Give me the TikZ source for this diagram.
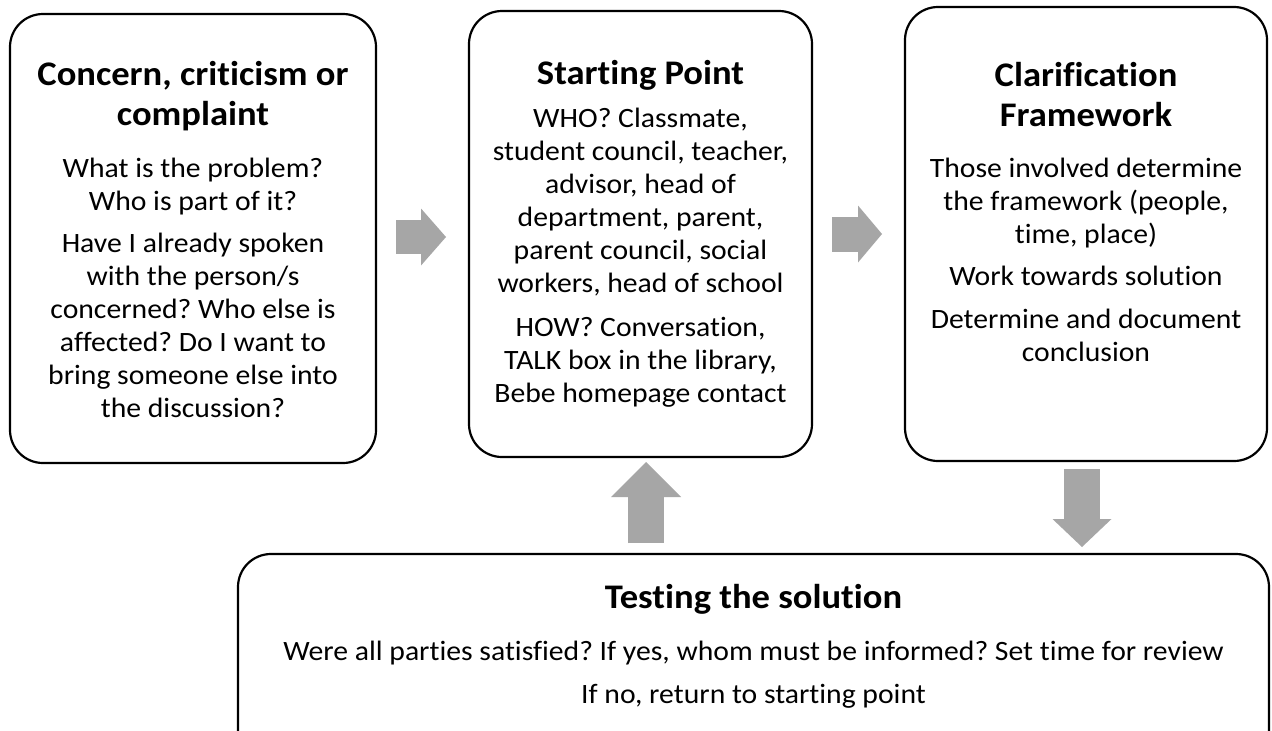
\documentclass[tikz,border=0pt]{standalone}
\usepackage{fontspec}
\setmainfont{Carlito}[FakeStretch=1.06, Ligatures=NoCommon]
\usetikzlibrary{arrows.meta,calc}
\definecolor{arrowgray}{HTML}{A6A6A6}
\newcommand\myttl{\fontsize{34.5}{40}\selectfont\bfseries\frenchspacing\spaceskip=0.24em\relax\xspaceskip=0.24em\relax}
\newcommand\mybody{\fontsize{28}{33}\selectfont\frenchspacing\spaceskip=0.24em\relax\xspaceskip=0.24em\relax}
\begin{document}
\begin{tikzpicture}[x=1pt,y=-1pt,
  box/.style={draw=black, line width=2.2pt, rounded corners=33pt, fill=white, inner sep=0pt, outer sep=0pt},
  txt/.style={anchor=base, inner sep=0pt, outer sep=0pt, align=center},
  blkarrow/.style={draw=arrowgray, line cap=butt}
]
\clip (0,0) rectangle (1272,731);
\fill[white] (0,0) rectangle (1272,731);

% boxes
\node[box, minimum width=366pt, minimum height=449pt] (b1) at (193,238.5) {};
\node[box, minimum width=343pt, minimum height=446pt] (b2) at (640.5,234) {};
\node[box, minimum width=362pt, minimum height=454pt] (b3) at (1086,234) {};
\node[box, minimum width=1031pt, minimum height=216pt] (b4) at (753.5,662) {};

% texts
\node[txt, text width=364pt] (t1) at (193,85) {%
{\myttl Concern, criticism or\\complaint\par}\vspace{19pt}%
{\mybody What is the problem?\\Who is part of it?\par}\vspace{9pt}%
{\mybody Have I already spoken\\with the person/s\\concerned? Who else is\\affected? Do I want to\\bring someone else into\\the discussion?\par}};

\node[txt, text width=341pt] (t2) at (640.5,84) {%
{\myttl Starting Point\par}\vspace{10pt}%
{\mybody WHO? Classmate,\\student council, teacher,\\advisor, head of\\department, parent,\\parent council, social\\workers, head of school\par}\vspace{11pt}%
{\mybody HOW? Conversation,\\TALK box in the library,\\Bebe homepage contact\par}};

\node[txt, text width=360pt] (t3) at (1086,86) {%
{\myttl Clarification\\Framework\par}\vspace{18pt}%
{\mybody Those involved determine\\the framework (people,\\time, place)\par}\vspace{9pt}%
{\mybody Work towards solution\par}\vspace{10pt}%
{\mybody Determine and document\\conclusion\par}};

\node[txt, text width=1025pt] (t4) at (753.5,608) {%
{\myttl Testing the solution\par}\vspace{19pt}%
{\mybody Were all parties satisfied? If yes, whom must be informed? Set time for review\par}\vspace{10pt}%
{\mybody If no, return to starting point\par}};

% block arrows
\coordinate (a1s) at ([yshift=1.5pt]b1.east);
\draw[blkarrow, line width=34pt, -{Triangle[length=25pt,width=57pt,line width=0pt]},
  shorten <=20pt, shorten >=23pt] (a1s) -- (a1s -| b2.west);

\coordinate (a2s) at (b2.east);
\draw[blkarrow, line width=35pt, -{Triangle[length=24pt,width=57pt,line width=0pt]},
  shorten <=20pt, shorten >=23pt] (a2s) -- (a2s -| b3.west);

\coordinate (a3s) at ([xshift=5.5pt]b2.south);
\draw[blkarrow, line width=36pt, -{Triangle[length=35pt,width=70pt,line width=0pt]},
  shorten <=11pt, shorten >=5pt] (a3s |- b4.north) -- (a3s);

\coordinate (a4s) at ([xshift=-4pt]b3.south);
\draw[blkarrow, line width=36pt, -{Triangle[length=28pt,width=59pt,line width=0pt]},
  shorten <=8pt, shorten >=7pt] (a4s) -- (a4s |- b4.north);
\end{tikzpicture}
\end{document}
